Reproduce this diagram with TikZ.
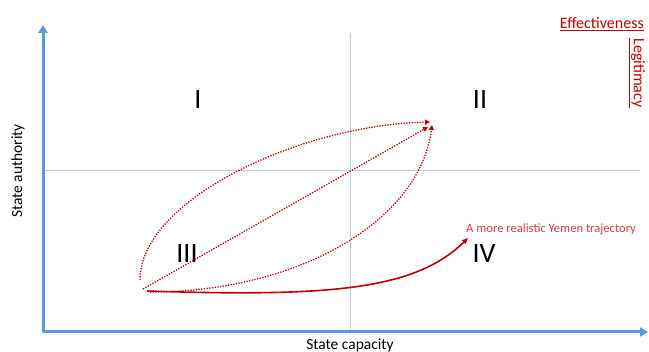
\documentclass[tikz,border=0pt]{standalone}
\usepackage{fontspec}
\setmainfont{Carlito}
\usepackage{tikz}
\usetikzlibrary{positioning,arrows.meta}
\definecolor{axisblue}{RGB}{91,155,213}
\definecolor{gridblue}{RGB}{184,204,228}
\definecolor{darkred}{RGB}{192,0,0}
\definecolor{labelred}{RGB}{214,64,64}

\begin{document}
\begin{tikzpicture}[x=1pt,y=-1pt,
  every node/.style={font=\fontsize{15.5}{17}\selectfont,inner sep=0pt},
  axis/.style={axisblue,line width=3pt,-{Triangle[length=8pt,width=9pt]}},
  gridline/.style={gridblue,line width=0.8pt},
  route/.style={darkred,line width=1.3pt,dash pattern=on 1.3pt off 1.4pt,-{Triangle[length=5pt,width=5pt]}},
  quad/.style={font=\fontsize{28}{30}\selectfont}]
  \useasboundingbox (0,0) rectangle (649,352);
  % axes and the two dividing lines
  \coordinate (origin) at (43,332);
  \coordinate (ytip) at (43,25);
  \coordinate (xtip) at (648,332);
  \coordinate (vtop) at (350,33);
  \coordinate (vbot) at (350,331);
  \coordinate (hleft) at (45,170);
  \coordinate (hright) at (640,170);
  \draw[gridline] (vtop) -- (vbot);
  \draw[gridline] (hleft) -- (hright);
  \draw[axis,line cap=round] (origin) -- (ytip);
  \draw[axis] (origin) -- (xtip);
  \node[rotate=90] (ylabel) at (18,171) {State authority};
  \node (xlabel) at (350,345) {State capacity};
  % quadrants
  \foreach \name/\x/\y/\txt in {q1/198/100/I, q2/480/100/II, q3/187/254/III, q4/484/254/IV}
    \node[quad] (\name) at (\x,\y) {\txt};
  \node[darkred,anchor=base east,font=\fontsize{16}{18}\selectfont] (eff) at (644,29) {\underline{Effectiveness}};
  \node[darkred,rotate=-90,font=\fontsize{16}{18}\selectfont] (legit) at (637,73) {\underline{Legitimacy}};
  \node[labelred,anchor=west,font=\fontsize{12.6}{14}\selectfont] (yemen) at (466,229) {A more realistic Yemen trajectory};
  % trajectories
  \coordinate (s1) at (140,280);
  \coordinate (s2) at (143,289);
  \coordinate (s3) at (150,292);
  \coordinate (g1) at (430,122);
  \coordinate (g2) at (428,127);
  \coordinate (g3) at (432,125);
  \coordinate (real) at (147,291);
  \coordinate (realend) at (468,238);
  \draw[route] (s1) .. controls (140,200) and (300,125) .. (g1);
  \draw[route] (s2) -- (g2);
  \draw[route] (s3) .. controls (300,292) and (420,220) .. (g3);
  \draw[darkred,line width=1.6pt,-{Triangle[length=6pt,width=5pt]}] (real) .. controls (330,297) and (415,290) .. (realend);
\end{tikzpicture}
\end{document}
